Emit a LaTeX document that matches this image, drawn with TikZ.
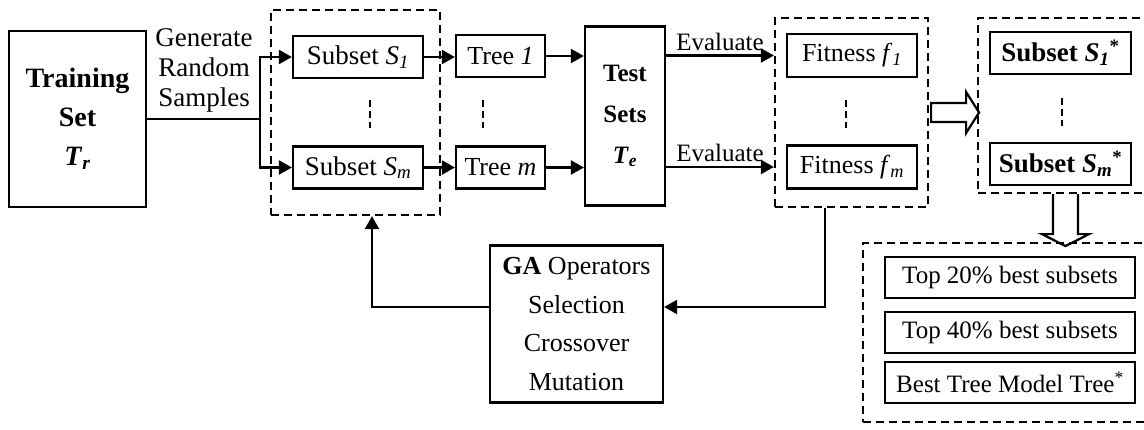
\documentclass[tikz,border=0pt]{standalone}
\usepackage{fontspec}
\setmainfont{Liberation Serif}
\usetikzlibrary{arrows.meta}

% italic symbol with italic subscript
\newcommand\isub[2]{\textit{#1}\textsubscript{\textit{#2}}}

\begin{document}
\begin{tikzpicture}[x=1pt,y=-1pt,
  box/.style={draw, line width=2.2pt, inner sep=0pt, align=center,
    font=\fontsize{26}{30}\selectfont},
  grp/.style={draw, line width=2.2pt, dash pattern=on 8pt off 5pt, inner sep=0pt},
  link/.style={line width=2.2pt, -{Triangle[length=13pt,width=14pt]}},
  wire/.style={line width=2.2pt},
  vdots/.style={line width=1.8pt, dash pattern=on 7pt off 4pt},
  hollow/.style={line width=2.2pt, line join=miter},
  lbl/.style={inner sep=0pt, align=center}]

\useasboundingbox (0,0) rectangle (1144,429);

% dashed groups
\node[grp, minimum width=169pt, minimum height=205pt] (g1) at (355.5,112.5) {};
\node[grp, minimum width=153pt, minimum height=189pt] (g2) at (851.5,112.5) {};
\node[grp, minimum width=182pt, minimum height=175pt] (g3) at (1069,105.5) {};
\node[grp, minimum width=297pt, minimum height=179pt] (g4) at (1011.5,332.5) {};

% training set
\node[box, minimum width=137pt, minimum height=176pt,
  font=\fontsize{28}{39}\selectfont\bfseries] (train) at (77.5,119)
  {Training\\Set\\\textit{T}\textsubscript{\textit{r}}};

% subsets
\node[box, minimum width=130pt, minimum height=42pt,
  font=\fontsize{27}{30}\selectfont] (s1) at (358,57) {Subset \isub{S}{1}};
\node[box, minimum width=130pt, minimum height=42pt,
  font=\fontsize{27}{30}\selectfont] (sm) at (358,167.5) {Subset \isub{S}{m}};

% trees
\node[box, minimum width=89pt, minimum height=42pt] (t1) at (500.5,56) {Tree \textit{1}};
\node[box, minimum width=89pt, minimum height=42pt] (tm) at (500.5,167.5) {Tree \textit{m}};

% test sets
\node[box, minimum width=80pt, minimum height=179pt,
  font=\fontsize{25}{41}\selectfont\bfseries] (test) at (625,116)
  {Test\\Sets\\\textit{T}\textsubscript{\textit{e}}};

% fitness
\node[box, minimum width=130pt, minimum height=43pt] (f1) at (852,55.5) {Fitness \isub{f}{1}};
\node[box, minimum width=130pt, minimum height=43pt] (fm) at (852,167) {Fitness \isub{f}{m}};

% selected subsets
\node[box, minimum width=141pt, minimum height=42pt,
  font=\fontsize{27}{30}\selectfont\bfseries] (b1) at (1060.5,53)
  {Subset \textit{S}\textsubscript{\textit{1}}\textsuperscript{*}};
\node[box, minimum width=141pt, minimum height=42pt,
  font=\fontsize{27}{30}\selectfont\bfseries] (bm) at (1060.5,164)
  {Subset \textit{S}\textsubscript{\textit{m}}\textsuperscript{*}};

% results
\node[box, minimum width=250pt, minimum height=41pt,
  font=\fontsize{25}{30}\selectfont] (r1) at (1010,277.5) {Top 20\% best subsets};
\node[box, minimum width=250pt, minimum height=41pt,
  font=\fontsize{25}{30}\selectfont] (r2) at (1010,332.5) {Top 40\% best subsets};
\node[box, minimum width=250pt, minimum height=41pt,
  font=\fontsize{25}{30}\selectfont] (r3) at (1010,382.5) {Best Tree Model Tree\textsuperscript{*}};

% GA operators
\node[box, minimum width=173pt, minimum height=157pt,
  font=\fontsize{26}{38.5}\selectfont] (ga) at (576.5,324)
  {\textbf{GA} Operators\\Selection\\Crossover\\Mutation};

% sampling
\coordinate (branch) at (260,119);
\node[lbl, font=\fontsize{27}{30}\selectfont] (gen) at (204,70) {Generate\\Random\\Samples};
\draw[wire] (train.east |- branch) -- (branch);
\draw[link] (branch) |- (s1.west);
\draw[link] (branch) |- (sm.west);

% subsets to trees to test sets
\draw[link] (s1.east) -- (s1.east -| t1.west);
\draw[link] (sm.east) -- (sm.east -| tm.west);
\draw[link] (t1.east) -- (t1.east -| test.west);
\draw[link] (tm.east) -- (tm.east -| test.west);

% evaluation
\draw[link] (test.east |- f1) -- node[above=4pt, lbl, font=\fontsize{25}{28}\selectfont] (ev1) {Evaluate} (g2.west |- f1);
\draw[link] (test.east |- fm) -- node[above=4pt, lbl, font=\fontsize{25}{28}\selectfont] (evm) {Evaluate} (g2.west |- fm);

% feedback loop through the GA operators
\coordinate (fbR) at (825,307);
\coordinate (fbL) at (372,307);
\draw[link] (g2.south -| fbR) |- (ga.east |- fbR);
\draw[link] (ga.west |- fbL) -| (g1.south -| fbL);

% vertical ellipses
\draw[vdots] (370,100) -- (370,128);
\draw[vdots] (483,100) -- (483,128);
\draw[vdots] (846,100) -- (846,128);
\draw[vdots] (1062,98) -- (1062,126);

% block arrows
\draw[hollow] (g2.east) ++(2,-9.5) -- ++(35,0) -- ++(0,-11) -- ++(13,20.5)
  -- ++(-13,20.5) -- ++(0,-11) -- ++(-35,0) -- cycle;
\draw[hollow] (g3.south) ++(-16,0) -- ++(0,40) -- ++(-11,0) -- ++(23.5,12)
  -- ++(23.5,-12) -- ++(-11,0) -- ++(0,-40);

\end{tikzpicture}
\end{document}
